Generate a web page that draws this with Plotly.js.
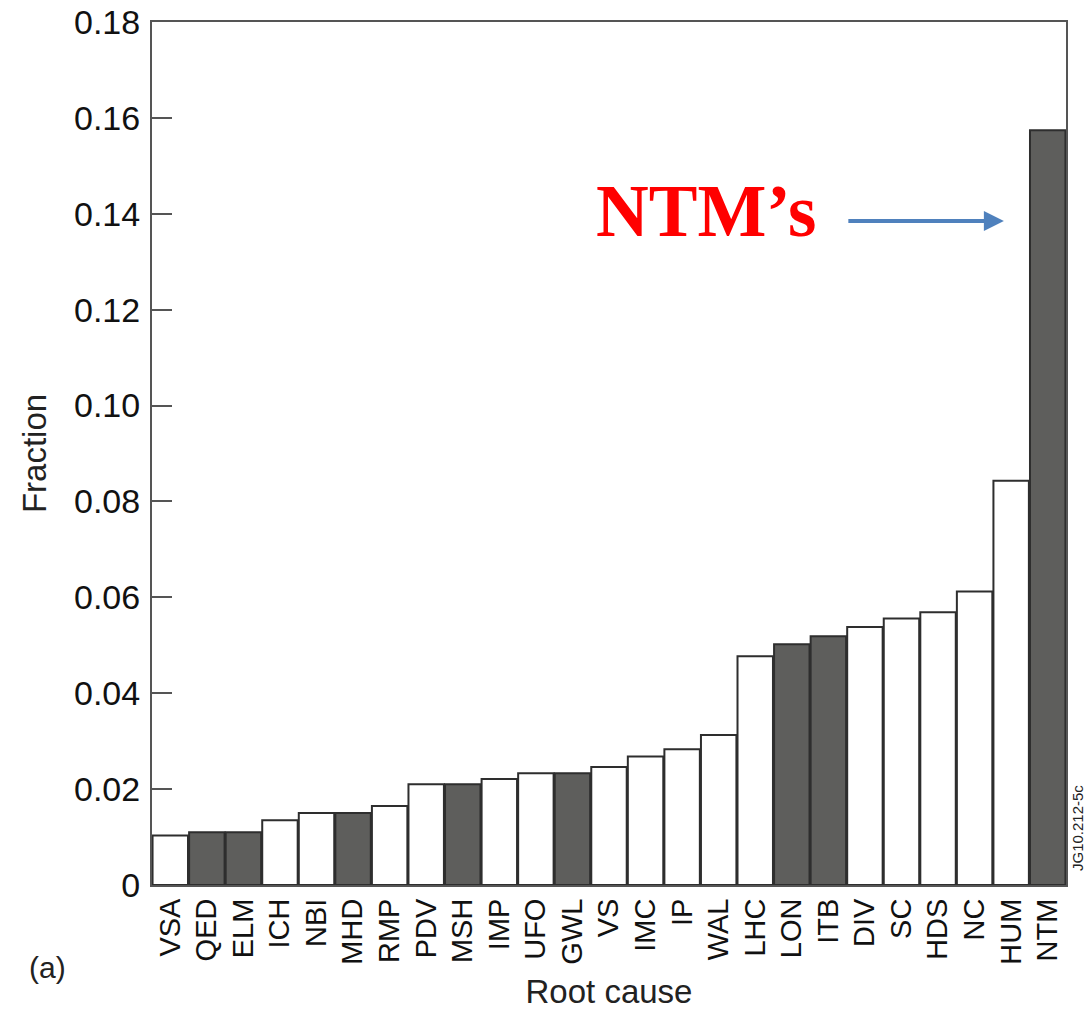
<!DOCTYPE html>
<html>
<head>
<meta charset="utf-8">
<script src="https://cdn.plot.ly/plotly-3.0.1.min.js"></script>
<style>
html,body{margin:0;padding:0;background:#fff;}
#chart{width:1088px;height:1010px;}
</style>
</head>
<body>
<div id="chart"></div>
<script>
const categories = ["VSA","QED","ELM","ICH","NBI","MHD","RMP","PDV","MSH","IMP","UFO","GWL","VS","IMC","IP","WAL","LHC","LON","ITB","DIV","SC","HDS","NC","HUM","NTM"];
const fractions = [0.0103,0.0110,0.0110,0.0135,0.0150,0.0150,0.0165,0.0210,0.0210,0.0221,0.0233,0.0233,0.0246,0.0268,0.0283,0.0313,0.0477,0.0502,0.0519,0.0538,0.0556,0.0569,0.0612,0.0843,0.1574];
const shaded = [0,1,1,0,0,1,0,0,1,0,0,1,0,0,0,0,0,1,1,0,0,0,0,0,1];
const yTicks = [0,0.02,0.04,0.06,0.08,0.10,0.12,0.14,0.16,0.18];
const yTickText = ["0","0.02","0.04","0.06","0.08","0.10","0.12","0.14","0.16","0.18"];

const DARK = "#5e5e5c", LIGHT = "#ffffff";
const colors = shaded.map(s => s ? DARK : LIGHT);

const trace = {
  type: "bar",
  x: categories,
  y: fractions,
  marker: {color: colors, line: {color: "#2e2e2e", width: 2}},
  hoverinfo: "x+y"
};

const font = "Liberation Sans, Arial, Helvetica, sans-serif";
const layout = {
  width: 1088, height: 1010,
  margin: {l: 152, r: 22, t: 22, b: 125},
  paper_bgcolor: "#ffffff", plot_bgcolor: "#ffffff",
  showlegend: false,
  bargap: 0.03,
  font: {family: font, color: "#111"},
  xaxis: {
    type: "category",
    showline: true, mirror: true, linecolor: "#555", linewidth: 2,
    ticks: "", tickangle: -90,
    tickfont: {size: 29, family: font, color: "#111"},
    showgrid: false, zeroline: false,
    title: {text: "Root cause", font: {size: 33, family: font, color: "#222"}, standoff: 20},
    automargin: false
  },
  yaxis: {
    range: [0, 0.18],
    tickvals: yTicks, ticktext: yTickText,
    showline: true, mirror: true, linecolor: "#555", linewidth: 2,
    ticks: "inside", ticklen: 20, tickcolor: "#555", tickwidth: 2,
    tickfont: {size: 34, family: font, color: "#111"},
    ticklabelstandoff: 3,
    showgrid: false, zeroline: false,
    title: {text: "Fraction", font: {size: 33, family: font, color: "#222"}, standoff: 17},
    automargin: false
  },
  annotations: [
    {xref: "paper", yref: "y", x: 0.606, y: 0.1405, text: "<b>NTM’s</b>", showarrow: false,
     font: {family: "Liberation Serif, Times New Roman, serif", size: 73, color: "#ff0000"},
     xanchor: "center", yanchor: "middle"},
    {xref: "paper", yref: "y", x: 0.932, y: 0.1385, ax: -157, ay: 0, axref: "pixel", ayref: "pixel",
     text: "", showarrow: true, arrowhead: 2, arrowsize: 1, arrowwidth: 4, arrowcolor: "#4f81bd"},
    {xref: "paper", yref: "paper", x: -0.114, y: -0.096, text: "(a)", showarrow: false,
     font: {family: font, size: 30, color: "#222"}, xanchor: "center", yanchor: "middle"},
    {xref: "paper", yref: "paper", x: 1.012, y: 0.066, text: "JG10.212-5c", showarrow: false,
     textangle: -90, font: {family: font, size: 15, color: "#222"}, xanchor: "center", yanchor: "middle"}
  ]
};

Plotly.newPlot("chart", [trace], layout, {displayModeBar: false, staticPlot: true});
</script>
</body>
</html>
